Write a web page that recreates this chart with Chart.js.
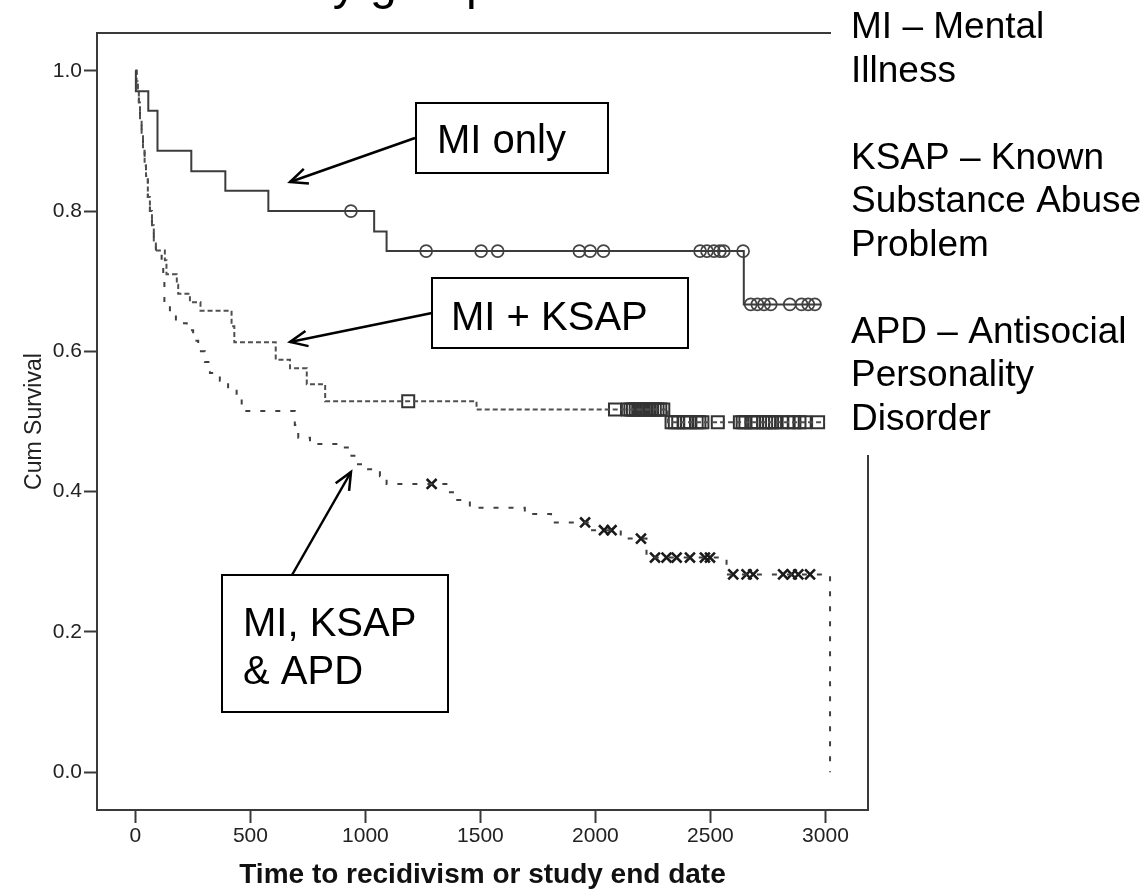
<!DOCTYPE html>
<html>
<head>
<meta charset="utf-8">
<script src="https://cdn.jsdelivr.net/npm/chart.js@4.4.1/dist/chart.umd.min.js"></script>
<style>
  html, body { margin: 0; padding: 0; background: #fff; }
</style>
</head>
<body>
<canvas id="myChart" width="1144" height="891"></canvas>
<script>
// MI only - event times and survival after each step
const miTimes = [0, 2, 56, 96, 243, 391, 578, 1038, 1092, 2645, 2983];
const miSurv  = [1.0, 0.971, 0.943, 0.886, 0.857, 0.829, 0.800, 0.771, 0.743, 0.667, 0.667];
const miCensored = [937, 1264, 1503, 1575, 1930, 1977, 2035, 2455, 2485, 2515, 2541, 2558, 2642,
                    2675, 2704, 2733, 2762, 2845, 2896, 2925, 2954];

// MI + KSAP
const ksapTimes = [0, 5, 10, 15, 20, 27, 33, 40, 46, 54, 63, 72, 80, 89, 128, 135, 180, 186, 237, 283,
                   418, 430, 610, 672, 745, 825, 1483, 2315, 2997];
const ksapSurv  = [1.0, 0.985, 0.97, 0.955, 0.93, 0.91, 0.886, 0.865, 0.85, 0.82, 0.80, 0.78, 0.758, 0.744,
                   0.73, 0.71, 0.695, 0.682, 0.670, 0.658, 0.636, 0.613, 0.588, 0.576, 0.553, 0.529, 0.517, 0.499, 0.499];
const ksapCensored = [1186, 2085, 2141, 2152, 2163, 2175, 2186, 2198, 2210, 2222, 2234, 2246, 2258, 2270, 2282, 2295,
                      2331, 2345, 2360, 2385, 2398, 2410, 2440, 2452, 2465, 2532,
                      2628, 2640, 2652, 2678, 2690, 2703, 2729, 2742, 2755, 2768, 2781, 2810, 2840, 2865,
                      2887, 2910, 2968];

// MI, KSAP & APD
const apdTimes = [0, 5, 10, 15, 20, 27, 33, 40, 46, 54, 63, 72, 80, 89,
                  114, 121, 126, 150, 176, 223, 251, 273, 302, 324, 367, 403, 440, 462,
                  693, 708, 759, 882, 933, 962, 1005, 1063, 1092,
                  1357, 1385, 1454, 1693, 1807, 1976, 2110, 2222, 2570, 3020];
const apdSurv  = [1.0, 0.985, 0.97, 0.955, 0.93, 0.91, 0.886, 0.865, 0.85, 0.82, 0.80, 0.78, 0.758, 0.741,
                  0.72, 0.70, 0.67, 0.656, 0.64, 0.63, 0.615, 0.60, 0.585, 0.569, 0.558, 0.544, 0.532, 0.515,
                  0.495, 0.477, 0.468, 0.463, 0.451, 0.439, 0.432, 0.422, 0.411,
                  0.399, 0.388, 0.377, 0.368, 0.356, 0.345, 0.333, 0.306, 0.282, 0.0];
const apdCensored = [1288, 1955, 2037, 2070, 2198, 2259, 2309, 2353, 2411, 2476, 2498,
                     2599, 2657, 2686, 2816, 2853, 2882, 2933];

const xTicks = [0, 500, 1000, 1500, 2000, 2500, 3000];
const yTicks = [0.0, 0.2, 0.4, 0.6, 0.8, 1.0];

const panelLines = ["MI \u2013 Mental", "Illness", "", "KSAP \u2013 Known", "Substance Abuse", "Problem", "",
                    "APD \u2013 Antisocial", "Personality", "Disorder"];

const FONT = "'Liberation Sans', Arial, Helvetica, sans-serif";

// survival level of a step curve at time t
function levelAt(times, surv, t) {
  let s = surv[0];
  for (let i = 0; i < times.length; i++) {
    if (times[i] <= t) s = surv[i];
  }
  return s;
}
const pts = (ts, ss) => ts.map((t, i) => ({x: t, y: ss[i]}));
const cens = (c, ts, ss) => c.map(t => ({x: t, y: levelAt(ts, ss, t)}));

function arrow(ctx, x1, y1, x2, y2) {
  ctx.beginPath(); ctx.moveTo(x1, y1); ctx.lineTo(x2, y2); ctx.stroke();
  const a = Math.atan2(y2 - y1, x2 - x1), len = 19, sp = 0.42;
  ctx.beginPath();
  ctx.moveTo(x2 - len * Math.cos(a - sp), y2 - len * Math.sin(a - sp));
  ctx.lineTo(x2, y2);
  ctx.lineTo(x2 - len * Math.cos(a + sp), y2 - len * Math.sin(a + sp));
  ctx.stroke();
}

function box(ctx, x, y, w, h, lines, tx, baselines) {
  ctx.fillStyle = '#fff';
  ctx.fillRect(x, y, w, h);
  ctx.strokeRect(x, y, w, h);
  ctx.fillStyle = '#000';
  lines.forEach((l, i) => ctx.fillText(l, tx, baselines[i]));
}

const overlay = {
  id: 'overlay',
  afterDatasetsDraw(chart) {
    const {ctx, chartArea: a} = chart;
    ctx.save();
    ctx.strokeStyle = '#3a3a3a';
    ctx.lineWidth = 2;
    ctx.beginPath();
    ctx.moveTo(a.left, a.top);
    ctx.lineTo(a.right, a.top);
    ctx.lineTo(a.right, a.bottom);
    ctx.stroke();
    ctx.restore();
  },
  afterDraw(chart) {
    const ctx = chart.ctx;
    ctx.save();
    // slide title, cut off by the top edge
    ctx.fillStyle = '#000';
    ctx.font = '48px ' + FONT;
    ctx.textBaseline = 'alphabetic';
    ctx.textAlign = 'left';
    const pre = ctx.measureText('Survival ').width;
    ctx.fillText('Survival by group', 306 - pre, -1);

    // text panel on the right
    ctx.fillStyle = '#fff';
    ctx.fillRect(831, 0, 313, 455);
    ctx.fillStyle = '#000';
    ctx.font = '37px ' + FONT;
    panelLines.forEach((l, i) => { if (l) ctx.fillText(l, 851, 38 + i * 43.5); });

    // callouts
    ctx.strokeStyle = '#000';
    ctx.lineWidth = 2;
    ctx.font = '40px ' + FONT;
    box(ctx, 416, 103, 192, 70, ['MI only'], 437, [153]);
    box(ctx, 432, 278, 256, 70, ['MI + KSAP'], 451, [330]);
    box(ctx, 222, 575, 226, 137, ['MI, KSAP', '& APD'], 243, [636, 684]);
    ctx.lineWidth = 2.5;
    arrow(ctx, 415, 138, 290, 182);
    arrow(ctx, 432, 313, 290, 342);
    arrow(ctx, 292, 575, 351, 472);
    ctx.restore();
  }
};

const ctx = document.getElementById('myChart');

new Chart(ctx, {
  type: 'line',
  data: {
    datasets: [
      { label: 'MI only', data: pts(miTimes, miSurv), stepped: true,
        borderColor: '#3c3c3c', borderWidth: 2, pointRadius: 0, fill: false },
      { label: 'MI only censored', data: cens(miCensored, miTimes, miSurv), showLine: false,
        pointStyle: 'circle', pointRadius: 6, borderColor: '#444', borderWidth: 1.7,
        backgroundColor: 'rgba(0,0,0,0)' },
      { label: 'MI + KSAP', data: pts(ksapTimes, ksapSurv), stepped: true,
        borderColor: '#505050', borderWidth: 2, borderDash: [5, 3], pointRadius: 0, fill: false },
      { label: 'MI + KSAP censored', data: cens(ksapCensored, ksapTimes, ksapSurv), showLine: false,
        pointStyle: 'rect', pointRadius: 8.5, borderColor: '#333', borderWidth: 2,
        backgroundColor: 'rgba(0,0,0,0)' },
      { label: 'MI, KSAP & APD', data: pts(apdTimes, apdSurv), stepped: true,
        borderColor: '#404040', borderWidth: 2, borderDash: [5, 10], pointRadius: 0, fill: false },
      { label: 'MI, KSAP & APD censored', data: cens(apdCensored, apdTimes, apdSurv), showLine: false,
        pointStyle: 'crossRot', pointRadius: 7, borderColor: '#1a1a1a', borderWidth: 2.6 }
    ]
  },
  options: {
    responsive: false,
    animation: false,
    devicePixelRatio: 1,
    layout: { padding: { left: 0, top: 33, right: 276, bottom: 0 } },
    plugins: { legend: { display: false }, tooltip: { enabled: false } },
    scales: {
      x: {
        type: 'linear', min: -167, max: 3185,
        afterFit: s => { s.height = 81; },
        afterBuildTicks: s => { s.ticks = xTicks.map(v => ({value: v})); },
        grid: { drawOnChartArea: false, drawTicks: true, tickLength: 13, tickColor: '#3a3a3a', tickWidth: 2 },
        border: { display: true, color: '#3a3a3a', width: 2 },
        ticks: { padding: 1, color: '#222', font: { family: FONT, size: 21 }, maxRotation: 0,
                 callback: v => String(v) },
        title: { display: true, text: 'Time to recidivism or study end date', color: '#111',
                 font: { family: FONT, size: 28, weight: 'bold', lineHeight: 1.1 }, padding: { top: 0, bottom: 0 } }
      },
      y: {
        type: 'linear', min: -0.054, max: 1.054,
        afterFit: s => { s.width = 97; },
        afterBuildTicks: s => { s.ticks = yTicks.map(v => ({value: v})); },
        grid: { drawOnChartArea: false, drawTicks: true, tickLength: 13, tickColor: '#3a3a3a', tickWidth: 2 },
        border: { display: true, color: '#3a3a3a', width: 2 },
        ticks: { padding: 2, color: '#222', font: { family: FONT, size: 21 },
                 callback: v => Number(v).toFixed(1) },
        title: { display: true, text: 'Cum Survival', color: '#222',
                 font: { family: FONT, size: 23 }, padding: { top: 21, bottom: 0 } }
      }
    }
  },
  plugins: [overlay]
});
</script>
</body>
</html>
